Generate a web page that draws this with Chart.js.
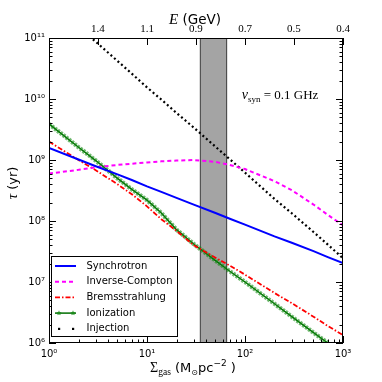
<!DOCTYPE html>
<html>
<head>
<meta charset="utf-8">
<script src="https://cdn.jsdelivr.net/npm/chart.js@4/dist/chart.umd.min.js"></script>
<style>
  html, body { margin: 0; padding: 0; background: #fff; }
  canvas { display: block; }
</style>
</head>
<body>
<canvas id="myChart" width="382" height="382"></canvas>
<script>
// gas surface density (M_sun pc^-2) where the curves were read
const sigmaGas = [1, 2, 3, 5, 7, 10, 14, 20, 30, 50, 70, 100, 200, 300, 500, 700, 1000];

// timescales in yr
const synchrotron = [1.58e9, 1.02e9, 7.9e8, 5.8e8, 4.7e8, 3.7e8, 3.0e8, 2.4e8, 1.86e8, 1.35e8, 1.09e8, 8.7e7, 5.6e7, 4.4e7, 3.2e7, 2.56e7, 2.04e7];
const inverseCompton = [6.0e8, 6.9e8, 7.6e8, 8.3e8, 8.7e8, 9.1e8, 9.5e8, 9.8e8, 1.0e9, 9.3e8, 8.3e8, 7.1e8, 4.5e8, 3.2e8, 1.86e8, 1.26e8, 8.5e7];
const bremsstrahlung = [2.0e9, 1.0e9, 6.8e8, 4.0e8, 2.75e8, 1.74e8, 1.07e8, 6.9e7, 4.0e7, 2.5e7, 1.86e7, 1.32e7, 6.6e6, 4.5e6, 2.7e6, 1.9e6, 1.35e6];
const ionization = [3.9e9, 1.62e9, 9.8e8, 5.0e8, 3.3e8, 2.2e8, 1.35e8, 7.2e7, 4.2e7, 2.24e7, 1.5e7, 1.0e7, 4.4e6, 2.7e6, 1.48e6, 1.0e6, 6.6e5];
const injection = [null, 1.5e11, 8.7e10, 4.2e10, 2.6e10, 1.55e10, 9.8e9, 5.9e9, 3.4e9, 1.65e9, 1.03e9, 6.2e8, 2.3e8, 1.34e8, 6.6e7, 4.1e7, 2.45e7];

// top axis: electron energy
const eTickPos = [3.162, 10, 31.62, 100, 316.2, 1000];
const eTickLabels = ['1.4', '1.1', '0.9', '0.7', '0.5', '0.4'];

// shaded range of Sigma_gas
const bandMin = 35;
const bandMax = 65;

const SUP = { '0': '\u2070', '1': '\u00b9', '2': '\u00b2', '3': '\u00b3', '4': '\u2074', '5': '\u2075', '6': '\u2076', '7': '\u2077', '8': '\u2078', '9': '\u2079', '-': '\u207b' };

function isPow(v) {
    const e = Math.log10(v);
    return Math.abs(e - Math.round(e)) < 1e-6;
}

function powLabel(v) {
    if (!isPow(v)) return '';
    const e = String(Math.round(Math.log10(v)));
    return '10' + e.split('').map(c => SUP[c]).join('');
}

function logTicks(min, max) {
    const ticks = [];
    for (let e = Math.round(Math.log10(min)); e < Math.round(Math.log10(max)); e++) {
        for (let m = 1; m < 10; m++) ticks.push({ value: m * Math.pow(10, e) });
    }
    ticks.push({ value: max });
    return ticks;
}

function pts(arr) {
    return sigmaGas.map((x, i) => ({ x: x, y: arr[i] }));
}

function drawRuns(ctx, runs, x, y) {
    let total = 0;
    runs.forEach(r => { ctx.font = r.font; total += ctx.measureText(r.text).width; });
    let cx = x - total / 2;
    runs.forEach(r => {
        ctx.font = r.font;
        ctx.fillText(r.text, cx, y + (r.dy || 0));
        cx += ctx.measureText(r.text).width;
    });
}

function starPath(ctx, cx, cy, r) {
    ctx.beginPath();
    for (let i = 0; i < 10; i++) {
        const rad = i % 2 === 0 ? r : r * 0.42;
        const a = -Math.PI / 2 + i * Math.PI / 5;
        const px = cx + rad * Math.cos(a), py = cy + rad * Math.sin(a);
        if (i === 0) ctx.moveTo(px, py); else ctx.lineTo(px, py);
    }
    ctx.closePath();
}

const datasets = [
    { label: 'Synchrotron', data: pts(synchrotron), borderColor: '#0000ff', borderWidth: 2 },
    { label: 'Inverse-Compton', data: pts(inverseCompton), borderColor: '#ff00ff', borderWidth: 2, borderDash: [4, 3] },
    { label: 'Bremsstrahlung', data: pts(bremsstrahlung), borderColor: '#ff0000', borderWidth: 1.8, borderDash: [5, 2, 1.5, 2] },
    { label: 'Ionization-beads', data: pts(ionization), borderColor: 'rgba(20,140,20,0.6)', borderWidth: 4.5, borderDash: [2.4, 1.2], skipLegend: true },
    { label: 'Ionization', data: pts(ionization), borderColor: '#006e00', borderWidth: 1.5, stars: true },
    { label: 'Injection', data: pts(injection), borderColor: '#000000', borderWidth: 2.2, borderDash: [2, 2.7], dots: true }
];
datasets.forEach(ds => { ds.pointRadius = 0; ds.fill = false; ds.tension = 0; ds.clip = 0; ds.spanGaps = false; });

const bandPlugin = {
    id: 'band',
    beforeDatasetsDraw(chart) {
        const { ctx, chartArea: a, scales: { x } } = chart;
        const x0 = x.getPixelForValue(bandMin), x1 = x.getPixelForValue(bandMax);
        ctx.save();
        ctx.fillStyle = '#a4a4a4';
        ctx.fillRect(x0, a.top, x1 - x0, a.bottom - a.top);
        ctx.strokeStyle = '#3a3a3a';
        ctx.lineWidth = 1;
        ctx.beginPath();
        ctx.moveTo(x0, a.top); ctx.lineTo(x0, a.bottom);
        ctx.moveTo(x1, a.top); ctx.lineTo(x1, a.bottom);
        ctx.stroke();
        ctx.restore();
    }
};

const decorPlugin = {
    id: 'decor',
    afterDraw(chart) {
        const { ctx, chartArea: a, scales: { x, x2, y } } = chart;
        ctx.save();
        ctx.strokeStyle = '#000';
        ctx.lineWidth = 1;
        ctx.beginPath();
        y.ticks.forEach(t => {
            const py = Math.round(y.getPixelForValue(t.value)) + 0.5;
            const len = isPow(t.value) ? 7 : 3.5;
            ctx.moveTo(a.left, py); ctx.lineTo(a.left + len, py);
            ctx.moveTo(a.right, py); ctx.lineTo(a.right - len, py);
        });
        x.ticks.forEach(t => {
            const px = Math.round(x.getPixelForValue(t.value)) + 0.5;
            const len = isPow(t.value) ? 7 : 3.5;
            ctx.moveTo(px, a.bottom); ctx.lineTo(px, a.bottom - len);
        });
        x2.ticks.forEach(t => {
            const px = Math.round(x2.getPixelForValue(t.value)) + 0.5;
            ctx.moveTo(px, a.top); ctx.lineTo(px, a.top + 7);
        });
        ctx.stroke();
        ctx.strokeRect(Math.round(a.left) + 0.5, Math.round(a.top) + 0.5, Math.round(a.right - a.left) - 1, Math.round(a.bottom - a.top) - 1);

        // legend
        const lx = 51.5, ly = 256.5, lw = 126, lh = 80;
        ctx.fillStyle = '#fff';
        ctx.fillRect(lx, ly, lw, lh);
        ctx.strokeStyle = '#000';
        ctx.strokeRect(lx, ly, lw, lh);
        const items = chart.data.datasets.filter(ds => !ds.skipLegend);
        items.forEach((ds, i) => {
            const ry = 266 + i * 15.7;
            ctx.save();
            ctx.strokeStyle = ds.borderColor;
            ctx.fillStyle = ds.borderColor;
            if (ds.dots) {
                ctx.fillRect(58, ry - 1, 2.2, 2.2);
                ctx.fillRect(72, ry - 1, 2.2, 2.2);
            } else {
                ctx.lineWidth = ds.borderWidth;
                ctx.setLineDash(ds.borderDash || []);
                ctx.beginPath();
                ctx.moveTo(55, ry); ctx.lineTo(76, ry);
                ctx.stroke();
                if (ds.stars) {
                    ctx.fillStyle = '#1a8a1a';
                    starPath(ctx, 59, ry, 2.8); ctx.fill();
                    starPath(ctx, 73, ry, 2.8); ctx.fill();
                }
            }
            ctx.restore();
            ctx.fillStyle = '#000';
            ctx.font = '10px "DejaVu Sans"';
            ctx.textBaseline = 'middle';
            ctx.fillText(ds.label, 86.5, ry);
        });
        ctx.textBaseline = 'alphabetic';

        // annotation
        ctx.fillStyle = '#000';
        const ann = [
            { text: '\u03bd', font: 'italic 14px "Liberation Serif"' },
            { text: 'syn', font: '9px "Liberation Serif"', dy: 3 },
            { text: ' = 0.1 GHz', font: '13px "Liberation Serif"' }
        ];
        drawRuns(ctx, ann, 280, 99);

        // top title
        drawRuns(ctx, [
            { text: 'E', font: 'italic 15px "Liberation Serif"' },
            { text: ' (GeV)', font: '13.5px "DejaVu Sans"' }
        ], 195, 24);

        // bottom title
        drawRuns(ctx, [
            { text: '\u03a3', font: '14px "Liberation Serif"' },
            { text: 'gas', font: '9.5px "Liberation Serif"', dy: 3 },
            { text: ' (M', font: '13px "DejaVu Sans"' },
            { text: '\u2299', font: '8px "DejaVu Sans"', dy: 3 },
            { text: 'pc', font: '13px "DejaVu Sans"' },
            { text: '\u22122', font: '9px "DejaVu Sans"', dy: -6 },
            { text: ' )', font: '13px "DejaVu Sans"' }
        ], 193, 372);

        // left title
        ctx.translate(17, 183);
        ctx.rotate(-Math.PI / 2);
        drawRuns(ctx, [
            { text: '\u03c4', font: 'italic 15px "Liberation Serif"' },
            { text: ' (yr)', font: '13px "DejaVu Sans"' }
        ], 0, 0);
        ctx.restore();
    }
};

const tickFont = { family: 'DejaVu Sans', size: 10 };

new Chart(document.getElementById('myChart'), {
    type: 'line',
    data: { datasets: datasets },
    options: {
        responsive: false,
        animation: false,
        devicePixelRatio: 1,
        layout: { padding: { left: 0, right: 39, top: 0, bottom: 0 } },
        plugins: { legend: { display: false }, tooltip: { enabled: false } },
        scales: {
            x: {
                type: 'logarithmic', position: 'bottom', min: 1, max: 1000,
                afterBuildTicks: s => { s.ticks = logTicks(1, 1000); },
                afterFit: s => { s.height = 39; },
                grid: { display: false, drawTicks: false },
                border: { display: false },
                ticks: { autoSkip: false, maxRotation: 0, padding: 5, color: '#000', font: tickFont, callback: v => powLabel(v) }
            },
            x2: {
                type: 'logarithmic', position: 'top', min: 1, max: 1000,
                afterBuildTicks: s => { s.ticks = eTickPos.map(v => ({ value: v })); },
                afterFit: s => { s.height = 38; },
                grid: { display: false, drawTicks: false },
                border: { display: false },
                ticks: { autoSkip: false, maxRotation: 0, padding: 2, color: '#000', font: { family: 'Liberation Serif', size: 11 }, callback: (v, i) => eTickLabels[i] }
            },
            y: {
                type: 'logarithmic', position: 'left', min: 1e6, max: 1e11,
                afterBuildTicks: s => { s.ticks = logTicks(1e6, 1e11); },
                afterFit: s => { s.width = 49; },
                grid: { display: false, drawTicks: false },
                border: { display: false },
                ticks: { autoSkip: false, padding: 4, color: '#000', font: tickFont, callback: v => powLabel(v) }
            }
        }
    },
    plugins: [bandPlugin, decorPlugin]
});
</script>
</body>
</html>
